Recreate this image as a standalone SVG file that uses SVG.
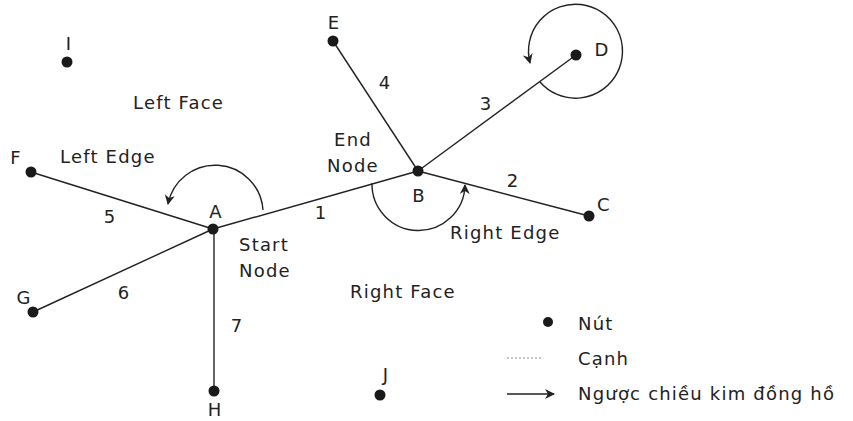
<svg xmlns="http://www.w3.org/2000/svg" width="853" height="421" viewBox="0 0 853 421">
<style>
.t{font-family:"DejaVu Sans",Verdana,sans-serif;font-size:18px;letter-spacing:1.2px;fill:#222;}
.n{fill:#1a1a1a;}
.e{stroke:#222;stroke-width:1.4;fill:none;}
.arc{stroke:#222;stroke-width:1.4;fill:none;marker-end:url(#ah);}
</style>
<defs>
<marker id="ah" viewBox="0 0 10 10" refX="9" refY="5" markerWidth="10" markerHeight="10" markerUnits="userSpaceOnUse" orient="auto">
<path d="M0,0 L10,5 L0,10 L3,5 Z" fill="#222"/>
</marker>
</defs>
<rect width="853" height="421" fill="#fff"/>
<g id="connectors">
<line class="e" x1="213" y1="229" x2="418" y2="171"/>
<line class="e" x1="418" y1="171" x2="589" y2="216"/>
<line class="e" x1="418" y1="171" x2="576" y2="55"/>
<line class="e" x1="418" y1="171" x2="333" y2="41"/>
<line class="e" x1="213" y1="229" x2="31" y2="172"/>
<line class="e" x1="213" y1="229" x2="33" y2="312"/>
<line class="e" x1="214" y1="229" x2="214" y2="391" stroke="#444"/>
<path class="arc" d="M263 210 A48 48 0 0 0 168 204"/>
<path class="arc" d="M372 183 A46 46 0 0 0 465 185"/>
<path class="arc" d="M540 82 A47 47 0 1 0 530 63"/>
</g>
<g id="edge-labels">
<text class="t" x="321" y="219" text-anchor="middle">1</text>
<text class="t" x="513" y="187" text-anchor="middle">2</text>
<text class="t" x="486" y="110" text-anchor="middle">3</text>
<text class="t" x="385" y="89" text-anchor="middle">4</text>
<text class="t" x="110" y="223" text-anchor="middle">5</text>
<text class="t" x="124" y="299" text-anchor="middle">6</text>
<text class="t" x="237" y="332" text-anchor="middle">7</text>
</g>
<g id="node-I"><circle class="n" cx="67" cy="62" r="5.5"/><text class="t" x="69" y="50" text-anchor="middle">I</text></g>
<g id="node-E"><circle class="n" cx="333" cy="41" r="5.5"/><text class="t" x="334" y="29" text-anchor="middle">E</text></g>
<g id="node-D"><circle class="n" cx="576" cy="55" r="5.5"/><text class="t" x="602" y="56" text-anchor="middle">D</text></g>
<g id="node-F"><circle class="n" cx="31" cy="172" r="5.5"/><text class="t" x="16" y="164" text-anchor="middle">F</text></g>
<g id="node-A"><circle class="n" cx="213" cy="229" r="5.5"/><text class="t" x="216" y="218" text-anchor="middle">A</text></g>
<g id="node-B"><circle class="n" cx="418" cy="171" r="5.5"/><text class="t" x="419" y="202" text-anchor="middle">B</text></g>
<g id="node-C"><circle class="n" cx="589" cy="216" r="5.5"/><text class="t" x="604" y="211" text-anchor="middle">C</text></g>
<g id="node-G"><circle class="n" cx="33" cy="312" r="5.5"/><text class="t" x="24" y="304" text-anchor="middle">G</text></g>
<g id="node-H"><circle class="n" cx="214" cy="391" r="5.5"/><text class="t" x="215" y="416" text-anchor="middle">H</text></g>
<g id="node-J"><circle class="n" cx="380" cy="395" r="5.5"/><text class="t" x="386" y="381" text-anchor="middle">J</text></g>
<g id="labels">
<text class="t" x="133" y="109">Left Face</text>
<text class="t" x="60" y="163">Left Edge</text>
<text class="t" x="353" y="146" text-anchor="middle">End</text>
<text class="t" x="353" y="172" text-anchor="middle">Node</text>
<text class="t" x="239" y="251">Start</text>
<text class="t" x="239" y="277">Node</text>
<text class="t" x="450" y="239">Right Edge</text>
<text class="t" x="350" y="298">Right Face</text>
</g>
<g id="legend">
<circle class="n" cx="548" cy="322" r="5"/>
<text class="t" x="578" y="330">Nút</text>
<line x1="507" y1="358" x2="541" y2="358" stroke="#888" stroke-width="1" stroke-dasharray="2 2"/>
<text class="t" x="578" y="365">Cạnh</text>
<line x1="507" y1="394" x2="554" y2="394" stroke="#222" stroke-width="1.4" marker-end="url(#ah)"/>
<text class="t" x="578" y="400">Ngược chiều kim đồng hồ</text>
</g>
</svg>
